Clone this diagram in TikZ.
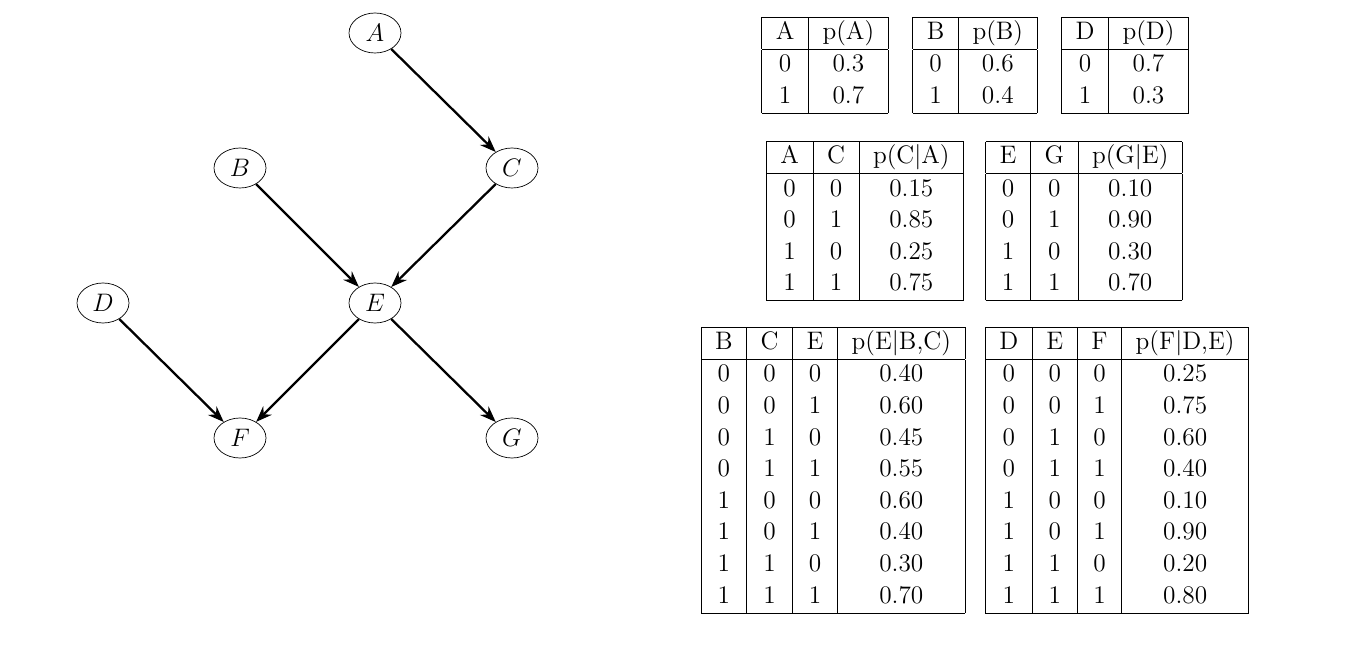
\documentclass[tikz,border=0pt]{standalone}
\usepackage{tikz}
\usetikzlibrary{arrows.meta,shapes.geometric}
\renewcommand{\arraystretch}{1.0}
\setlength{\tabcolsep}{8pt}
\newcommand{\TabNode}[3]{%
  % #1 name, #2 position, #3 table body
  \node[cpt] (#1) at #2 {#3};
}
\begin{document}
\begin{tikzpicture}[
  x=0.02cm, y=-0.02cm,
  >={Stealth[length=3.2mm,width=2.4mm]},
  var/.style={ellipse,draw=black,thin,minimum width=1.04cm,minimum height=0.8cm,inner sep=0pt,font=\Large},
  edge/.style={->,line width=1.3pt},
  cpt/.style={inner sep=0pt,font=\Large}
]
\useasboundingbox (0,0) rectangle (1352,648);

% Variables
\node[var] (A) at (375,33) {$A$};
\node[var] (B) at (240,168) {$B$};
\node[var] (C) at (512,168) {$C$};
\node[var] (D) at (103,303) {$D$};
\node[var] (E) at (375,303) {$E$};
\node[var] (F) at (240,438) {$F$};
\node[var] (G) at (512,438) {$G$};

% Edges
\draw[edge] (A) -- (C);
\draw[edge] (B) -- (E);
\draw[edge] (C) -- (E);
\draw[edge] (D) -- (F);
\draw[edge] (E) -- (F);
\draw[edge] (E) -- (G);

% Tables
\TabNode{tA}{(825,65)}{\begin{tabular}{|c|c|}\hline A & p(A)\\\hline 0 & 0.3\\ 1 & 0.7\\\hline\end{tabular}}
\TabNode{tB}{(975,65)}{\begin{tabular}{|c|c|}\hline B & p(B)\\\hline 0 & 0.6\\ 1 & 0.4\\\hline\end{tabular}}
\TabNode{tD}{(1125,65)}{\begin{tabular}{|c|c|}\hline D & p(D)\\\hline 0 & 0.7\\ 1 & 0.3\\\hline\end{tabular}}
\TabNode{tC}{(865,221)}{\begin{tabular}{|c|c|c|}\hline A & C & p(C$|$A)\\\hline
 0 & 0 & 0.15\\ 0 & 1 & 0.85\\ 1 & 0 & 0.25\\ 1 & 1 & 0.75\\\hline\end{tabular}}
\TabNode{tG}{(1084,221)}{\begin{tabular}{|c|c|c|}\hline E & G & p(G$|$E)\\\hline
 0 & 0 & 0.10\\ 0 & 1 & 0.90\\ 1 & 0 & 0.30\\ 1 & 1 & 0.70\\\hline\end{tabular}}
\TabNode{tE}{(833,470)}{\begin{tabular}{|c|c|c|c|}\hline B & C & E & p(E$|$B,C)\\\hline
 0 & 0 & 0 & 0.40\\ 0 & 0 & 1 & 0.60\\ 0 & 1 & 0 & 0.45\\ 0 & 1 & 1 & 0.55\\
 1 & 0 & 0 & 0.60\\ 1 & 0 & 1 & 0.40\\ 1 & 1 & 0 & 0.30\\ 1 & 1 & 1 & 0.70\\\hline\end{tabular}}
\TabNode{tF}{(1117,470)}{\begin{tabular}{|c|c|c|c|}\hline D & E & F & p(F$|$D,E)\\\hline
 0 & 0 & 0 & 0.25\\ 0 & 0 & 1 & 0.75\\ 0 & 1 & 0 & 0.60\\ 0 & 1 & 1 & 0.40\\
 1 & 0 & 0 & 0.10\\ 1 & 0 & 1 & 0.90\\ 1 & 1 & 0 & 0.20\\ 1 & 1 & 1 & 0.80\\\hline\end{tabular}}

\end{tikzpicture}
\end{document}
